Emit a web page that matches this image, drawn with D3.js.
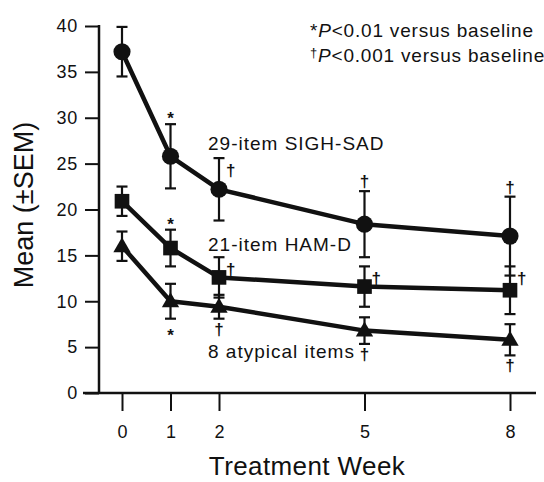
<!DOCTYPE html>
<html>
<head>
<meta charset="utf-8">
<script src="https://cdn.jsdelivr.net/npm/d3@7"></script>
<style>
  body { margin: 0; background: #fff; }
  svg text { font-family: "Liberation Sans", Arial, Helvetica, sans-serif; fill: #111; }
</style>
</head>
<body>
<div id="chart-area"></div>
<script>
// data
const weeks = [0, 1, 2, 5, 8]
const yTicks = [0, 5, 10, 15, 20, 25, 30, 35, 40]

const sighMean = [37.2, 25.8, 22.2, 18.4, 17.1]
const sighSem = [2.7, 3.5, 3.4, 3.6, 4.3]
const sighSig = ["", "*", "†", "†", "†"]

const hamMean = [20.9, 15.8, 12.6, 11.6, 11.2]
const hamSem = [1.6, 2.0, 2.2, 2.2, 2.6]
const hamSig = ["", "*", "†", "†", "†"]

const atypMean = [16.0, 10.0, 9.4, 6.8, 5.8]
const atypSem = [1.6, 1.9, 1.3, 1.45, 1.7]
const atypSig = ["", "*", "†", "†", "†"]

const seriesNames = ["29-item SIGH-SAD", "21-item HAM-D", "8 atypical items"]

const width = 544
const height = 482

const svg = d3.select("#chart-area").append("svg")
  .attr("width", width)
  .attr("height", height)

const x = d3.scaleLinear().domain([0, 8]).range([122, 510])
const y = d3.scaleLinear().domain([0, 40]).range([393, 26])
const axisX = 99

const ink = "#111"

// axes
const yAxisCall = d3.axisLeft(y)
  .tickValues(yTicks)
  .tickSize(14)
  .tickPadding(7)

const yAxis = svg.append("g")
  .attr("transform", `translate(${axisX}, 0)`)
  .call(yAxisCall)
yAxis.select(".domain").remove()
yAxis.selectAll("line").attr("stroke", ink).attr("stroke-width", 2)
yAxis.selectAll("text")
  .attr("font-size", "18px")
  .attr("letter-spacing", "0.8px")
  .style("fill", ink)

const xAxisCall = d3.axisBottom(x)
  .tickValues(weeks)
  .tickSize(18)
  .tickPadding(14)
  .tickFormat(d3.format("d"))

const xAxis = svg.append("g")
  .attr("transform", `translate(0, ${y(0)})`)
  .call(xAxisCall)
xAxis.select(".domain").remove()
xAxis.selectAll("line").attr("stroke", ink).attr("stroke-width", 2)
xAxis.selectAll("text")
  .attr("font-size", "18px")
  .style("fill", ink)

// axis lines
svg.append("line")
  .attr("x1", axisX).attr("x2", axisX)
  .attr("y1", y(40) - 1).attr("y2", y(0))
  .attr("stroke", ink).attr("stroke-width", 2.5)

svg.append("line")
  .attr("x1", 83).attr("x2", 536)
  .attr("y1", y(0)).attr("y2", y(0))
  .attr("stroke", ink).attr("stroke-width", 2.5)

// axis titles
svg.append("text")
  .attr("x", 307)
  .attr("y", 475)
  .attr("font-size", "26px")
  .attr("letter-spacing", "0.4px")
  .attr("text-anchor", "middle")
  .text("Treatment Week")

svg.append("text")
  .attr("transform", "translate(33, 205) rotate(-90)")
  .attr("font-size", "27px")
  .attr("text-anchor", "middle")
  .text("Mean (±SEM)")

// series
const series = [
  { mean: sighMean, sem: sighSem, sig: sighSig, shape: d3.symbolCircle, size: 230,
    sigPos: ["", "above", "right", "above", "above"] },
  { mean: hamMean, sem: hamSem, sig: hamSig, shape: d3.symbolSquare, size: 215,
    sigPos: ["", "above", "right", "right", "right"] },
  { mean: atypMean, sem: atypSem, sig: atypSig, shape: d3.symbolTriangle, size: 130,
    sigPos: ["", "below", "below", "below", "below"] },
]

const line = d3.line()
  .x(d => x(d.week))
  .y(d => y(d.mean))

series.forEach(s => {
  const pts = weeks.map((w, i) => ({ week: w, mean: s.mean[i], sem: s.sem[i], sig: s.sig[i], pos: s.sigPos[i] }))
  const g = svg.append("g")

  // error bars
  const eb = g.selectAll(".eb").data(pts).enter().append("g")
  eb.append("line")
    .attr("x1", d => x(d.week)).attr("x2", d => x(d.week))
    .attr("y1", d => y(d.mean + d.sem)).attr("y2", d => y(d.mean - d.sem))
    .attr("stroke", ink).attr("stroke-width", 2.2)
  eb.append("line")
    .attr("x1", d => x(d.week) - 5.5).attr("x2", d => x(d.week) + 5.5)
    .attr("y1", d => y(d.mean + d.sem)).attr("y2", d => y(d.mean + d.sem))
    .attr("stroke", ink).attr("stroke-width", 2.2)
  eb.append("line")
    .attr("x1", d => x(d.week) - 5.5).attr("x2", d => x(d.week) + 5.5)
    .attr("y1", d => y(d.mean - d.sem)).attr("y2", d => y(d.mean - d.sem))
    .attr("stroke", ink).attr("stroke-width", 2.2)

  g.append("path")
    .datum(pts)
    .attr("d", line)
    .attr("fill", "none")
    .attr("stroke", ink)
    .attr("stroke-width", 4.5)
    .attr("stroke-linejoin", "round")

  g.selectAll(".mark").data(pts).enter().append("path")
    .attr("transform", d => `translate(${x(d.week)}, ${y(d.mean) + (s.shape === d3.symbolTriangle ? 1 : 0)})`)
    .attr("d", d3.symbol().type(s.shape).size(s.size))
    .attr("fill", ink)

  // significance marks
  g.selectAll(".sig").data(pts.filter(d => d.sig)).enter().append("text")
    .attr("font-size", "17px")
    .attr("font-weight", "bold")
    .attr("text-anchor", d => d.pos === "right" ? "start" : "middle")
    .attr("x", d => d.pos === "right" ? x(d.week) + 7 : x(d.week))
    .attr("y", d => {
      if (d.pos === "above") return y(d.mean + d.sem) - (d.sig === "*" ? 0 : 4)
      if (d.pos === "right") return y(d.mean + d.sem) + 18
      return y(d.mean - d.sem) + (d.sig === "*" ? 22 : 16)
    })
    .text(d => d.sig)
})

// series labels
const labelY = [150, 251, 358]
svg.selectAll(".series-label").data(seriesNames).enter().append("text")
  .attr("x", 208)
  .attr("y", (d, i) => labelY[i])
  .attr("font-size", "19px")
  .attr("letter-spacing", "1px")
  .text(d => d)

// note
const note = svg.append("g").attr("font-size", "19px").attr("letter-spacing", "0.8px")
const n1 = note.append("text").attr("x", 310).attr("y", 36.5)
n1.append("tspan").text("*")
n1.append("tspan").attr("font-style", "italic").text("P")
n1.append("tspan").text("<0.01 versus baseline")

const n2 = note.append("text").attr("x", 310).attr("y", 61.5)
n2.append("tspan").attr("font-size", "13px").attr("dy", "-5").text("†")
n2.append("tspan").attr("font-style", "italic").attr("dy", "5").text("P")
n2.append("tspan").text("<0.001 versus baseline")
</script>
</body>
</html>
